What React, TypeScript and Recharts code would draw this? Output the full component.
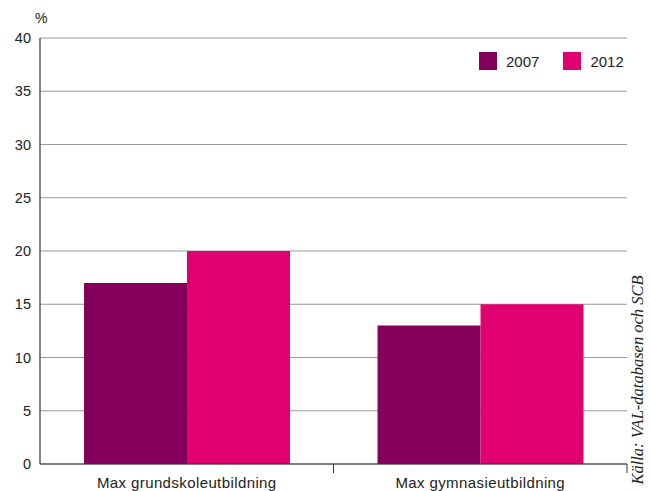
import React from "react";
import { BarChart, Bar, XAxis, YAxis, CartesianGrid } from "recharts";

const categories = ["Max grundskoleutbildning", "Max gymnasieutbildning"];
const values2007 = [17, 13];
const values2012 = [20, 15];
const yTicks = [0, 5, 10, 15, 20, 25, 30, 35, 40];
const seriesNames = ["2007", "2012"];
const colors = ["#85005A", "#E0006F"];

const data = categories.map((c, i) => ({
  name: c,
  "2007": values2007[i],
  "2012": values2012[i],
}));

const FONT = "'Liberation Sans', Arial, sans-serif";
const CHART_W = 651;
const CHART_H = 491;
const MARGIN = { top: 38, right: 24, bottom: 0, left: 0 };
const Y_W = 40;
const PLOT_W = CHART_W - MARGIN.left - MARGIN.right - Y_W;
const BAND = PLOT_W / categories.length;

const CategoryTick = (props: any) => {
  const { x, y, payload } = props;
  const bx = x + BAND / 2;
  return (
    <g>
      <line x1={bx} y1={y} x2={bx} y2={y + 9} stroke="#333" strokeWidth={1} />
      <text x={x} y={y + 24} textAnchor="middle" fill="#222" fontSize={15} letterSpacing={0.4} fontFamily={FONT}>
        {payload.value}
      </text>
    </g>
  );
};

export default function App() {
  return (
    <div style={{ position: "fixed", left: 0, top: 0, width: CHART_W, height: CHART_H, background: "#fff" }}>
      <BarChart width={CHART_W} height={CHART_H} data={data} margin={MARGIN} barCategoryGap="15%" barGap={0}>
        <CartesianGrid vertical={false} stroke="#999" strokeWidth={1.2} />
        <XAxis
          dataKey="name"
          axisLine={{ stroke: "#333", strokeWidth: 1.2 }}
          tickLine={false}
          tickSize={0}
          tickMargin={0}
          height={27}
          tick={<CategoryTick />}
          interval={0}
        />
        <YAxis
          width={Y_W}
          domain={[0, 40]}
          ticks={yTicks}
          axisLine={{ stroke: "#333", strokeWidth: 1.2 }}
          tickLine={false}
          tickSize={0}
          tickMargin={9}
          tick={{ fill: "#222", fontSize: 14.5, fontFamily: FONT }}
        />
        <Bar dataKey="2007" fill={colors[0]} isAnimationActive={false} />
        <Bar dataKey="2012" fill={colors[1]} isAnimationActive={false} />
      </BarChart>
      <div
        style={{
          position: "absolute",
          left: 479,
          top: 52,
          display: "flex",
          alignItems: "center",
          height: 18,
          fontFamily: FONT,
          fontSize: 15,
          color: "#222",
        }}
      >
        {seriesNames.map((s, i) => (
          <div key={s} style={{ display: "flex", alignItems: "center", marginRight: i === 0 ? 24 : 0 }}>
            <div style={{ width: 18, height: 18, background: colors[i], marginRight: 9 }} />
            <span>{s}</span>
          </div>
        ))}
      </div>
      <div style={{ position: "absolute", left: 35, top: 10, fontFamily: FONT, fontSize: 14, color: "#222" }}>%</div>
      <div
        style={{
          position: "absolute",
          left: 638,
          top: 380,
          transform: "translate(-50%, -50%) rotate(-90deg)",
          whiteSpace: "nowrap",
          fontFamily: "'Liberation Serif', 'Times New Roman', serif",
          fontStyle: "italic",
          fontSize: 16.5,
          color: "#222",
        }}
      >
        Källa: VAL-databasen och SCB
      </div>
    </div>
  );
}
